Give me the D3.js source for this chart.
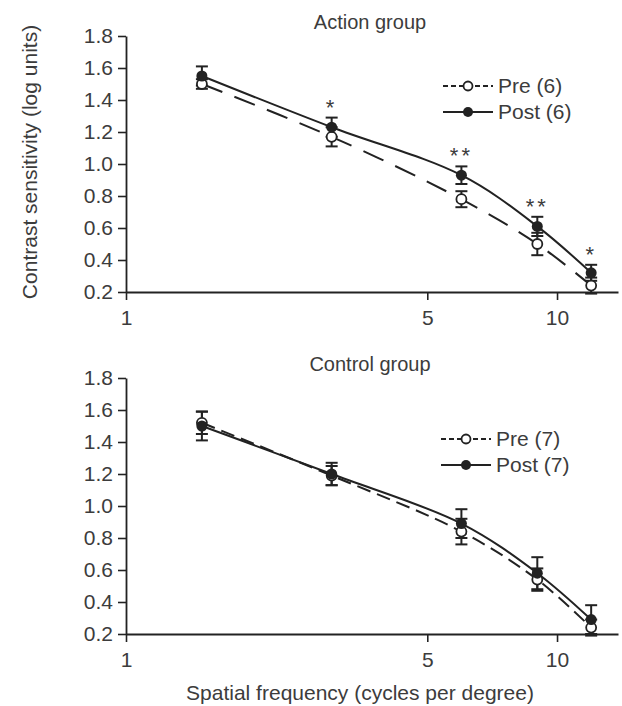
<!DOCTYPE html>
<html>
<head>
<meta charset="utf-8">
<script src="https://cdn.jsdelivr.net/npm/d3@7"></script>
<style>
  html, body { margin: 0; padding: 0; background: #fff; }
  svg { display: block; font-family: "Liberation Sans", Arial, sans-serif; }
</style>
</head>
<body>
<svg id="chart" width="622" height="706"></svg>
<script>
// ---------------- data ----------------
const frequencies = [1.5, 3, 6, 9, 12];
const xTickValues = [1, 5, 10];
const yTickValues = [0.2, 0.4, 0.6, 0.8, 1.0, 1.2, 1.4, 1.6, 1.8];

const actionPre = [1.50, 1.17, 0.78, 0.50, 0.24];
const actionPreErr = [0.03, 0.06, 0.05, 0.07, 0.05];
const actionPost = [1.55, 1.23, 0.93, 0.61, 0.32];
const actionPostErr = [0.06, 0.06, 0.055, 0.06, 0.05];
const actionStars = ["", "*", "**", "**", "*"];

const controlPre = [1.52, 1.19, 0.84, 0.54, 0.24];
const controlPreErr = [0.07, 0.06, 0.08, 0.07, 0.05];
const controlPost = [1.50, 1.20, 0.89, 0.58, 0.29];
const controlPostErr = [0.09, 0.07, 0.09, 0.10, 0.09];
const controlStars = ["", "", "", "", ""];

const panelTitles = ["Action group", "Control group"];
const preLabels = ["Pre (6)", "Pre (7)"];
const postLabels = ["Post (6)", "Post (7)"];
const yAxisTitle = "Contrast sensitivity (log units)";
const xAxisTitle = "Spatial frequency (cycles per degree)";

// ---------------- drawing ----------------
const svg = d3.select("#chart");
const ink = "#222";
const textCol = "#3c3c3c";

const x = d3.scaleLog().domain([1, 13.85]).range([126, 618]);

const panels = [
  { title: panelTitles[0], top: 36, bottom: 292, titleY: 29,
    pre: actionPre, preErr: actionPreErr, post: actionPost, postErr: actionPostErr,
    stars: actionStars, preLabel: preLabels[0], postLabel: postLabels[0],
    legX: 443, legY: 86, dash: "22,13" },
  { title: panelTitles[1], top: 378, bottom: 634, titleY: 371,
    pre: controlPre, preErr: controlPreErr, post: controlPost, postErr: controlPostErr,
    stars: controlStars, preLabel: preLabels[1], postLabel: postLabels[1],
    legX: 441, legY: 439, dash: "14,7" }
];

panels.forEach(p => {
  const g = svg.append("g");
  const y = d3.scaleLinear().domain([0.2, 1.8]).range([p.bottom, p.top]);

  // title
  g.append("text").attr("x", 370).attr("y", p.titleY)
    .attr("text-anchor", "middle").attr("font-size", 20).attr("fill", textCol)
    .text(p.title);

  // y axis
  const yAxis = d3.axisLeft(y).tickValues(yTickValues).tickFormat(d3.format(".1f"))
    .tickSize(8).tickSizeOuter(0).tickPadding(5);
  const ya = g.append("g").attr("transform", `translate(${x(1)},0)`).call(yAxis);
  ya.select(".domain").attr("stroke", ink).attr("stroke-width", 1.8);
  ya.selectAll(".tick line").attr("stroke", ink).attr("stroke-width", 1.6);
  ya.selectAll(".tick text").attr("font-size", 21).attr("fill", textCol)
    .attr("font-family", "'Liberation Sans', Arial, sans-serif");

  // x axis
  const xAxis = d3.axisBottom(x).tickValues(xTickValues).tickFormat(d3.format("d"))
    .tickSize(8).tickSizeOuter(0).tickPadding(10);
  const xa = g.append("g").attr("transform", `translate(0,${p.bottom})`).call(xAxis);
  xa.select(".domain").attr("stroke", ink).attr("stroke-width", 1.8);
  xa.selectAll(".tick line").attr("stroke", ink).attr("stroke-width", 1.6);
  xa.selectAll(".tick text").attr("font-size", 21).attr("fill", textCol)
    .attr("font-family", "'Liberation Sans', Arial, sans-serif");

  const line = d3.line().x(d => x(d[0])).y(d => y(d[1])).curve(d3.curveCatmullRom.alpha(0.5));
  const preData = frequencies.map((f, i) => [f, p.pre[i]]);
  const postData = frequencies.map((f, i) => [f, p.post[i]]);

  g.append("path").datum(preData).attr("d", line).attr("fill", "none")
    .attr("stroke", ink).attr("stroke-width", 2).attr("stroke-dasharray", p.dash);
  g.append("path").datum(postData).attr("d", line).attr("fill", "none")
    .attr("stroke", ink).attr("stroke-width", 2);

  // error bars
  const drawErr = (vals, errs) => {
    frequencies.forEach((f, i) => {
      const cx = x(f), y1 = y(vals[i] + errs[i]), y0 = y(vals[i] - errs[i]);
      g.append("line").attr("x1", cx).attr("x2", cx).attr("y1", y1).attr("y2", y0)
        .attr("stroke", ink).attr("stroke-width", 2);
      [y1, y0].forEach(yy => g.append("line").attr("x1", cx - 6).attr("x2", cx + 6)
        .attr("y1", yy).attr("y2", yy).attr("stroke", ink).attr("stroke-width", 2));
    });
  };
  drawErr(p.pre, p.preErr);
  drawErr(p.post, p.postErr);

  // markers
  g.selectAll(".pre").data(preData).join("circle")
    .attr("cx", d => x(d[0])).attr("cy", d => y(d[1])).attr("r", 5)
    .attr("fill", "#fff").attr("stroke", ink).attr("stroke-width", 1.8);
  g.selectAll(".post").data(postData).join("circle")
    .attr("cx", d => x(d[0])).attr("cy", d => y(d[1])).attr("r", 5.5)
    .attr("fill", ink);

  // significance stars
  frequencies.forEach((f, i) => {
    if (!p.stars[i]) return;
    g.append("text").attr("x", x(f)).attr("y", y(p.post[i] + p.postErr[i]) - 3)
      .attr("text-anchor", "middle").attr("font-size", 22).attr("fill", textCol)
      .attr("letter-spacing", 3)
      .text(p.stars[i]);
  });

  // legend
  const lx = p.legX, ly = p.legY;
  g.append("line").attr("x1", lx).attr("x2", lx + 50).attr("y1", ly).attr("y2", ly)
    .attr("stroke", ink).attr("stroke-width", 2).attr("stroke-dasharray", "5,3");
  g.append("circle").attr("cx", lx + 25).attr("cy", ly).attr("r", 4.5)
    .attr("fill", "#fff").attr("stroke", ink).attr("stroke-width", 1.8);
  g.append("text").attr("x", lx + 55).attr("y", ly + 7).attr("font-size", 21)
    .attr("fill", textCol).text(p.preLabel);
  g.append("line").attr("x1", lx).attr("x2", lx + 50).attr("y1", ly + 26).attr("y2", ly + 26)
    .attr("stroke", ink).attr("stroke-width", 2);
  g.append("circle").attr("cx", lx + 25).attr("cy", ly + 26).attr("r", 5)
    .attr("fill", ink);
  g.append("text").attr("x", lx + 55).attr("y", ly + 33).attr("font-size", 21)
    .attr("fill", textCol).text(p.postLabel);
});

// axis titles
svg.append("text").attr("transform", "translate(37,162) rotate(-90)")
  .attr("text-anchor", "middle").attr("font-size", 21).attr("fill", textCol)
  .text(yAxisTitle);
svg.append("text").attr("x", 360).attr("y", 700)
  .attr("text-anchor", "middle").attr("font-size", 21).attr("fill", textCol)
  .text(xAxisTitle);
</script>
</body>
</html>
